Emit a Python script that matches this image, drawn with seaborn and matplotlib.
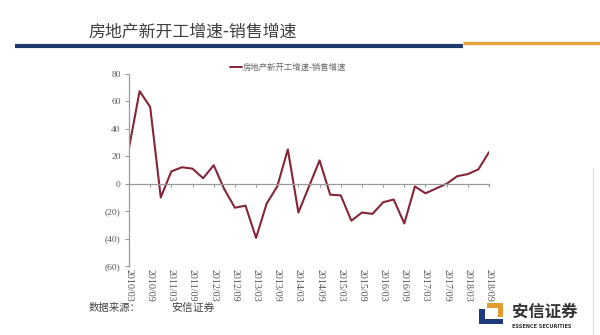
import matplotlib
matplotlib.use("Agg")
import matplotlib.pyplot as plt
import matplotlib.patches as mpatches
from matplotlib.lines import Line2D
import seaborn as sns
import pandas as pd

# Quarterly spread: new-start growth minus sales growth (%)
quarters = [
    "2010/03", "2010/06", "2010/09", "2010/12",
    "2011/03", "2011/06", "2011/09", "2011/12",
    "2012/03", "2012/06", "2012/09", "2012/12",
    "2013/03", "2013/06", "2013/09", "2013/12",
    "2014/03", "2014/06", "2014/09", "2014/12",
    "2015/03", "2015/06", "2015/09", "2015/12",
    "2016/03", "2016/06", "2016/09", "2016/12",
    "2017/03", "2017/06", "2017/09", "2017/12",
    "2018/03", "2018/06", "2018/09",
]
spread = [
    26, 67.5, 56, -10,
    9, 12, 11, 4,
    13.5, -4, -17.5, -16,
    -39.5, -14.5, -2, 25,
    -21, -2, 17, -8,
    -8.5, -27, -21, -22,
    -13.5, -11.5, -29, -2,
    -7, -3.5, 0, 5.5,
    7, 10.5, 23,
]
series_name = "房地产新开工增速-销售增速"
title_text = "房地产新开工增速-销售增速"
y_ticks = [80, 60, 40, 20, 0, -20, -40, -60]

df = pd.DataFrame({"quarter": quarters, "value": spread})
df["pos"] = range(len(df))

sns.set_theme(style="white")
plt.rcParams["font.family"] = ["Noto Sans CJK SC", "DejaVu Sans"]

fig = plt.figure(figsize=(6.0, 3.35), dpi=100)
fig.patch.set_facecolor("white")

line_color = "#84263a"
ax = fig.add_axes([0.215, 0.206, 0.600, 0.573])
sns.lineplot(data=df, x="pos", y="value", ax=ax, color=line_color,
             linewidth=1.5, legend=False)

ax.set_xlim(df["pos"].iloc[0], df["pos"].iloc[-1])
ax.set_ylim(-60, 80)
ax.set_xlabel("")
ax.set_ylabel("")
for s in ["top", "right"]:
    ax.spines[s].set_visible(False)
ax.spines["left"].set_color("#9a9a9a")
ax.spines["left"].set_linewidth(0.9)
ax.spines["bottom"].set_position(("data", 0))
ax.spines["bottom"].set_color("#9a9a9a")
ax.spines["bottom"].set_linewidth(0.9)
ax.tick_params(axis="y", direction="out", length=3, width=0.8,
               color="#9a9a9a", pad=3, left=True,
               labelsize=6.8, labelcolor="#555555")
ax.tick_params(axis="x", direction="out", length=2.5, width=0.8,
               color="#9a9a9a", pad=59, bottom=True,
               labelsize=7.2, labelcolor="#555555", labelrotation=-90)

ax.set_yticks(y_ticks)
ax.yaxis.set_major_formatter(
    matplotlib.ticker.FuncFormatter(
        lambda v, p: f"({abs(int(v))})" if v < 0 else f"{int(v)}"))

half_year = df.iloc[::2]
ax.set_xticks(list(half_year["pos"]))
ax.set_xticklabels(list(half_year["quarter"]))

serif = ["Liberation Serif", "DejaVu Serif"]
for lab in ax.get_yticklabels():
    lab.set_family(serif)
for lab in ax.get_xticklabels():
    lab.set_family(serif)
    lab.set_rotation(-90)
    lab.set_va("top")
    lab.set_ha("center")

# legend above the plot
fig.add_artist(Line2D([0.383, 0.403], [0.800, 0.800], color=line_color,
                      linewidth=1.4, transform=fig.transFigure))
fig.text(0.405, 0.800, series_name, fontsize=6, color="#666666",
         va="center", ha="left")

# header
fig.text(0.147, 0.905, title_text, fontsize=12.2, color="#404040",
         va="center", ha="left")
fig.add_artist(Line2D([0.025, 0.772], [0.864, 0.864], color="#1d3a6a",
                      linewidth=3.0, transform=fig.transFigure,
                      solid_capstyle="butt"))
fig.add_artist(Line2D([0.772, 1.0], [0.871, 0.871], color="#e6a33c",
                      linewidth=2.4, transform=fig.transFigure,
                      solid_capstyle="butt"))
fig.add_artist(Line2D([0.988, 0.988], [0.0, 0.5], color="#dddddd",
                      linewidth=0.8, transform=fig.transFigure))

# source note
fig.text(0.147, 0.080, "数据来源：", fontsize=7.5, color="#444444",
         va="center", ha="left")
fig.text(0.285, 0.080, "安信证券", fontsize=7.8, color="#444444",
         va="center", ha="left")

# company mark
W, H = 600.0, 335.0
def box(x0, y0, x1, y1, color):
    fig.add_artist(mpatches.Rectangle((x0 / W, 1 - y1 / H),
                                      (x1 - x0) / W, (y1 - y0) / H,
                                      facecolor=color, edgecolor="none",
                                      transform=fig.transFigure))
box(479, 309, 485, 324, "#1d3a7a")
box(479, 319, 503, 324, "#1d3a7a")
box(487, 303, 503, 308, "#e39a2e")
box(498, 303, 503, 317, "#e39a2e")
fig.text(512 / W, 1 - 312 / H, "安信证券", fontsize=11.8, color="#333333",
         fontweight="bold", va="center", ha="left")
fig.text(512 / W, 1 - 327 / H, "ESSENCE SECURITIES", fontsize=3.6,
         color="#333333", fontweight="bold", va="center", ha="left",
         family=["DejaVu Sans"])

fig.savefig("out.png", dpi=100, facecolor="white")
